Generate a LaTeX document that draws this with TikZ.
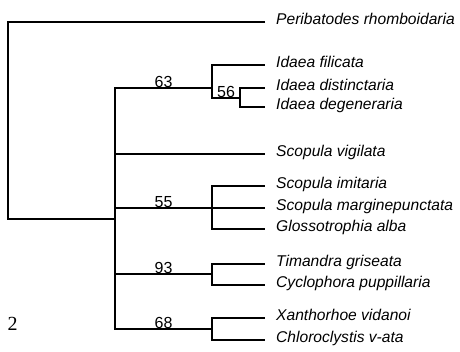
\documentclass[tikz,border=0pt]{standalone}
\usepackage{fontspec}
\setmainfont{Liberation Sans}
\newfontfamily\serifnum{Liberation Serif}
\usetikzlibrary{positioning}
\tikzset{
  branch/.style={line width=1.2pt, black},
  taxon/.style={anchor=mid west, inner xsep=11pt, inner ysep=0pt,
    font=\fontsize{15.6}{15.6}\selectfont\itshape},
  support/.style={anchor=south, inner sep=0pt, font=\fontsize{16}{16}\selectfont}
}

\begin{document}
\begin{tikzpicture}[x=1pt, y=-1pt]
  \useasboundingbox (0,0) rectangle (460,352);
  % Taxa
  \node[taxon] (peri) at (265,22)  {Peribatodes rhomboidaria};
  \node[taxon] (fil)  at (265,65)  {Idaea filicata};
  \node[taxon] (dis)  at (265,88)  {Idaea distinctaria};
  \node[taxon] (deg)  at (265,107) {Idaea degeneraria};
  \node[taxon] (vig)  at (265,154) {Scopula vigilata};
  \node[taxon] (imi)  at (265,186) {Scopula imitaria};
  \node[taxon] (mar)  at (265,208) {Scopula marginepunctata};
  \node[taxon] (glo)  at (265,229) {Glossotrophia alba};
  \node[taxon] (tim)  at (265,264) {Timandra griseata};
  \node[taxon] (cyc)  at (265,285) {Cyclophora puppillaria};
  \node[taxon] (xan)  at (265,318) {Xanthorhoe vidanoi};
  \node[taxon] (chl)  at (265,340) {Chloroclystis v-ata};
  % Internal nodes
  \coordinate (root) at (8,120);
  \coordinate (c1)   at (115,219);
  \coordinate (n63)  at (212,88);
  \coordinate (n56)  at (240,98);
  \coordinate (n55)  at (212,208);
  \coordinate (n93)  at (212,274);
  \coordinate (n68)  at (212,329);
  % Branches
  \draw[branch] (peri.mid west) -| (root) |- (c1);
  \draw[branch] (c1) |- (n63) node[support, pos=0.75] {63};
  \draw[branch] (c1) |- (vig.mid west);
  \draw[branch] (c1) |- (n55) node[support, pos=0.75] {55};
  \draw[branch] (c1) |- (n93) node[support, pos=0.75] {93};
  \draw[branch] (c1) |- (n68) node[support, pos=0.75] {68};
  \draw[branch] (n63) |- (fil.mid west);
  \draw[branch] (n63) |- (n56) node[support, pos=0.75] {56};
  \draw[branch] (n56) |- (dis.mid west);
  \draw[branch] (n56) |- (deg.mid west);
  \draw[branch] (n55) |- (imi.mid west);
  \draw[branch] (n55) |- (mar.mid west);
  \draw[branch] (n55) |- (glo.mid west);
  \draw[branch] (n93) |- (tim.mid west);
  \draw[branch] (n93) |- (cyc.mid west);
  \draw[branch] (n68) |- (xan.mid west);
  \draw[branch] (n68) |- (chl.mid west);
  % Figure number
  \node[font=\serifnum\fontsize{20}{20}\selectfont] (fignum) at (12.5,324) {2};
\end{tikzpicture}
\end{document}
